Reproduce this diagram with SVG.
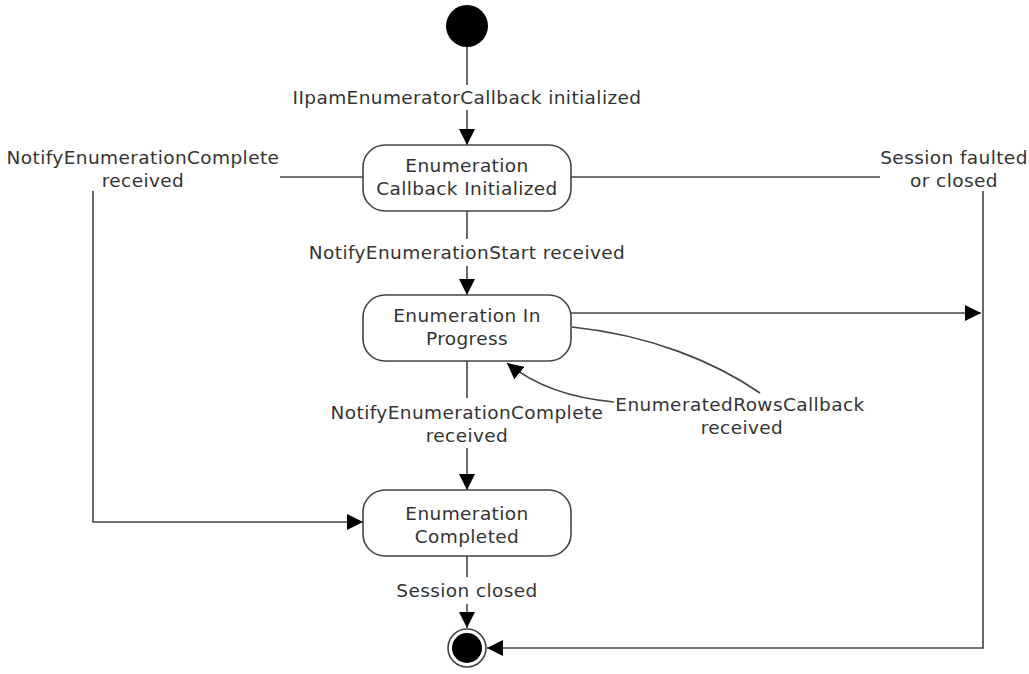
<svg xmlns="http://www.w3.org/2000/svg" width="1029" height="674" viewBox="0 0 1029 674">
<style>
text{font-family:"DejaVu Sans","Verdana",sans-serif;font-size:18.5px;letter-spacing:0.4px;fill:#333;text-anchor:middle}
.ln{stroke:#444;stroke-width:1.6;fill:none}
.st{fill:#fff;stroke:#444;stroke-width:1.6}
</style>
<defs>
<marker id="ah" markerUnits="userSpaceOnUse" markerWidth="16" markerHeight="16" viewBox="0 0 16 16" refX="16" refY="8" orient="auto">
<path d="M0,0 L16,8 L0,16 z" fill="#000"/>
</marker>
</defs>
<rect width="1029" height="674" fill="#fff"/>
<g id="connectors">
<line class="ln" x1="467" y1="47" x2="467" y2="85"/>
<line class="ln" x1="467" y1="110" x2="467" y2="145" marker-end="url(#ah)"/>
<text x="467" y="104">IIpamEnumeratorCallback initialized</text>
<line class="ln" x1="363" y1="177" x2="280" y2="177"/>
<text x="143" y="164">NotifyEnumerationComplete</text>
<text x="143" y="187">received</text>
<polyline class="ln" points="93,191 93,522 363,522" marker-end="url(#ah)"/>
<line class="ln" x1="571" y1="177" x2="880" y2="177"/>
<text x="954" y="164">Session faulted</text>
<text x="954" y="187">or closed</text>
<polyline class="ln" points="983,191 983,648 487,648" marker-end="url(#ah)"/>
<line class="ln" x1="467" y1="211" x2="467" y2="239"/>
<text x="467" y="259">NotifyEnumerationStart received</text>
<line class="ln" x1="467" y1="266" x2="467" y2="295" marker-end="url(#ah)"/>
<line class="ln" x1="571" y1="313" x2="981" y2="313" marker-end="url(#ah)"/>
<path class="ln" d="M572,327 C650,335 715,362 760,393"/>
<path class="ln" d="M614,402 C580,399 540,390 507,363" marker-end="url(#ah)"/>
<text x="740" y="411">EnumeratedRowsCallback</text>
<text x="742" y="434">received</text>
<line class="ln" x1="467" y1="361" x2="467" y2="398"/>
<text x="467" y="419">NotifyEnumerationComplete</text>
<text x="467" y="442">received</text>
<line class="ln" x1="467" y1="448" x2="467" y2="490" marker-end="url(#ah)"/>
<line class="ln" x1="467" y1="556" x2="467" y2="577"/>
<text x="467" y="597">Session closed</text>
<line class="ln" x1="467" y1="604" x2="467" y2="628" marker-end="url(#ah)"/>
</g>
<g id="initial">
<circle cx="467" cy="26" r="21" fill="#000"/>
</g>
<g id="callbackInitialized">
<rect class="st" x="363" y="145" width="208" height="66" rx="22"/>
<text x="467" y="172">Enumeration</text>
<text x="467" y="195">Callback Initialized</text>
</g>
<g id="inProgress">
<rect class="st" x="363" y="295" width="208" height="66" rx="22"/>
<text x="467" y="322">Enumeration In</text>
<text x="467" y="345">Progress</text>
</g>
<g id="completed">
<rect class="st" x="363" y="490" width="208" height="66" rx="22"/>
<text x="467" y="520">Enumeration</text>
<text x="467" y="543">Completed</text>
</g>
<g id="final">
<circle cx="467" cy="648" r="19" fill="#fff" stroke="#444" stroke-width="1.6"/>
<circle cx="467" cy="648" r="15" fill="#000"/>
</g>
</svg>
